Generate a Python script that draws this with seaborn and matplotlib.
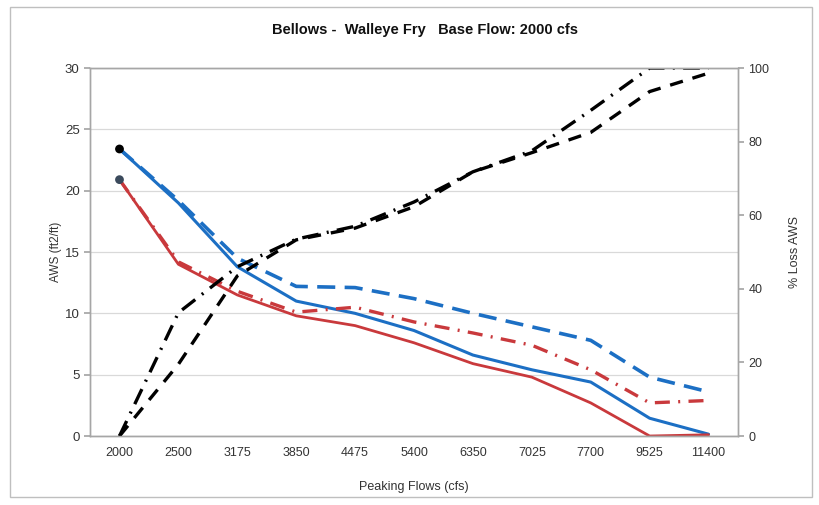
import matplotlib
matplotlib.use("Agg")
import matplotlib.pyplot as plt
import seaborn as sns
import pandas as pd
from matplotlib.patches import Rectangle

# -------------------------------------------------
# Data
# -------------------------------------------------
flows = ["2000", "2500", "3175", "3850", "4475", "5400",
         "6350", "7025", "7700", "9525", "11400"]

# AWS (ft2/ft), left axis
aws_blue_solid = [23.4, 19.0, 13.8, 11.0, 10.0, 8.6, 6.6, 5.4, 4.4, 1.45, 0.15]
aws_blue_dash = [23.4, 19.2, 14.5, 12.2, 12.1, 11.2, 10.0, 8.9, 7.8, 4.8, 3.6]
aws_red_solid = [20.9, 14.0, 11.5, 9.8, 9.0, 7.6, 5.9, 4.8, 2.7, 0.0, 0.1]
aws_red_dashdot = [20.9, 14.2, 11.8, 10.1, 10.5, 9.3, 8.4, 7.4, 5.4, 2.7, 2.9]

# % Loss AWS, right axis
loss_dashed = [0, 19.5, 43.5, 53.3, 56.5, 62.3, 71.8, 77.0, 82.5, 93.6, 98.6]
loss_dashdot = [0, 33.5, 46.0, 53.5, 57.0, 63.6, 71.8, 77.5, 88.5, 100.0, 100.0]

df = pd.DataFrame({
    "flow": flows,
    "blue_solid": aws_blue_solid,
    "blue_dash": aws_blue_dash,
    "red_solid": aws_red_solid,
    "red_dashdot": aws_red_dashdot,
    "loss_dashed": loss_dashed,
    "loss_dashdot": loss_dashdot,
})

BLUE = "#1c6fc4"
RED = "#c9393c"
GRID = "#d9d9d9"
SPINE = "#a6a6a6"
TXT = "#333333"

sns.set_theme(style="white")
plt.rcParams["font.family"] = ["Liberation Sans", "DejaVu Sans"]

fig = plt.figure(figsize=(8.2, 5.05), dpi=100)
ax = fig.add_axes([0.1098, 0.1366, 0.7902, 0.7287])
ax2 = ax.twinx()

# outer chart border
fig.patches.append(Rectangle((0.012, 0.016), 0.978, 0.97, transform=fig.transFigure,
                             fill=False, edgecolor="#bfbfbf", linewidth=1.0))

# -------------------------------------------------
# AWS lines (left axis)
# -------------------------------------------------
sns.lineplot(data=df, x="flow", y="blue_dash", ax=ax, color=BLUE, linewidth=2.6,
             dashes=(5, 2.6), sort=False)
sns.lineplot(data=df, x="flow", y="blue_solid", ax=ax, color=BLUE, linewidth=2.2,
             sort=False)
sns.lineplot(data=df, x="flow", y="red_dashdot", ax=ax, color=RED, linewidth=2.4,
             dashes=(4.5, 2.5, 0.6, 2.5), sort=False)
sns.lineplot(data=df, x="flow", y="red_solid", ax=ax, color=RED, linewidth=2.0,
             sort=False)

# starting points
sns.scatterplot(x=[flows[0]], y=[aws_blue_solid[0]], ax=ax, color="black", s=40,
                edgecolor="none", zorder=5)
sns.scatterplot(x=[flows[0]], y=[aws_red_solid[0]], ax=ax, color="#3b4a5c", s=40,
                edgecolor="none", zorder=5)

# -------------------------------------------------
# % Loss lines (right axis)
# -------------------------------------------------
sns.lineplot(data=df, x="flow", y="loss_dashdot", ax=ax2, color="black", linewidth=2.4,
             dashes=(5, 2.5, 0.6, 2.5), sort=False)
sns.lineplot(data=df, x="flow", y="loss_dashed", ax=ax2, color="black", linewidth=2.4,
             dashes=(4, 3), sort=False)

# -------------------------------------------------
# Axes formatting
# -------------------------------------------------
ax.set_xlim(-0.5, len(flows) - 0.5)
ax.set_ylim(0, 30)
ax.set_yticks(range(0, 31, 5))
ax2.set_ylim(0, 100)
ax2.set_yticks(range(0, 101, 20))

ax.set_xticks(range(len(flows)))
ax.set_xticklabels(flows)
ax.set_xticks([i + 0.5 for i in range(-1, len(flows))], minor=True)
ax.tick_params(axis="x", which="major", length=0, pad=8, labelsize=9, labelcolor=TXT)
ax.tick_params(axis="x", which="minor", length=4, color=SPINE, direction="out")
ax.tick_params(axis="y", length=4, color=SPINE, direction="out", labelsize=9.5,
               labelcolor=TXT, left=True)
ax2.tick_params(axis="y", length=4, color=SPINE, direction="out", labelsize=9,
                labelcolor=TXT, right=True)

ax.yaxis.grid(True, color=GRID, linewidth=0.9)
ax.xaxis.grid(False)
ax2.grid(False)

for a in (ax, ax2):
    for s in a.spines.values():
        s.set_color(SPINE)
        s.set_linewidth(1.0)

ax.set_xlabel("Peaking Flows (cfs)", fontsize=9, color=TXT, labelpad=16)
ax.set_ylabel("AWS (ft2/ft)", fontsize=8.5, color=TXT, labelpad=2)
ax2.set_ylabel("% Loss AWS", fontsize=9, color=TXT, rotation=90, labelpad=14)

fig.text(0.518, 0.94, "Bellows -  Walleye Fry   Base Flow: 2000 cfs",
         ha="center", va="center", fontsize=10.5, fontweight="bold", color="#111111")

fig.savefig("out.png", dpi=100, facecolor="white")
plt.close(fig)
